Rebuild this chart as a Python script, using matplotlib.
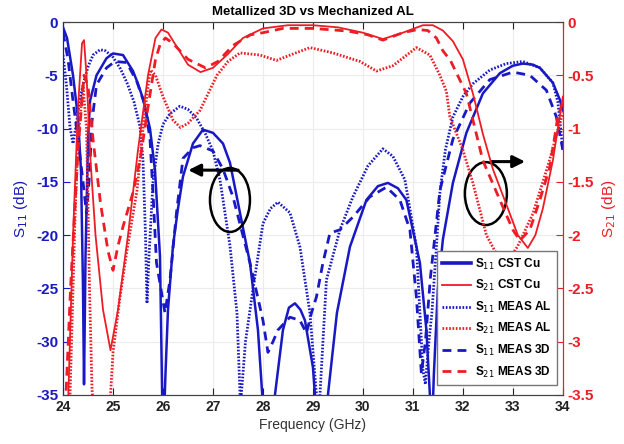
import matplotlib
matplotlib.use('Agg')
import matplotlib.pyplot as plt
from matplotlib.patches import Ellipse
from matplotlib.lines import Line2D

plt.rcParams['font.family'] = ['Liberation Sans', 'DejaVu Sans']

BLUE = '#1818c4'
RED = '#ee1c24'

# S11 CST Cu (blue solid)
s11_cst_f = [24.0, 24.08, 24.2, 24.3, 24.36, 24.4, 24.42, 24.45, 24.5, 24.54, 24.67, 24.87, 25.0, 25.2,
             25.4, 25.5, 25.6, 25.74, 25.84, 25.94, 26.0, 26.05, 26.1, 26.2, 26.3, 26.4, 26.6, 26.8,
             27.0, 27.2, 27.34, 27.54, 27.74, 27.9, 28.0, 28.1, 28.24, 28.4, 28.52, 28.64, 28.75, 28.84,
             29.0, 29.04, 29.15, 29.3, 29.48, 29.74, 30.07, 30.3, 30.5, 30.7, 30.87, 31.14, 31.27, 31.34,
             31.37, 31.42, 31.5, 31.6, 31.8, 32.07, 32.4, 32.74, 33.0, 33.2, 33.4, 33.54, 33.8, 33.94, 34.0]
s11_cst_db = [-0.5, -1.5, -5, -9, -14, -25, -34, -22, -11, -7.4, -5, -3.4, -2.95, -3.1,
              -4.6, -5.8, -7.2, -10, -13.9, -22, -40, -33, -27, -21, -17.5, -14.5, -11.4, -10.1,
              -10.4, -11.4, -13.2, -17.9, -22.6, -28.9, -36, -45, -35, -28.9, -26.8, -26.4, -27, -28,
              -32.4, -35, -45, -35, -27.3, -21.1, -16.7, -15.4, -15.1, -15.6, -16.7, -22.6, -28.9, -35,
              -40, -33, -25, -20.4, -15.1, -10.4, -6.7, -4.8, -4.1, -3.9, -4.0, -4.3, -5.7, -7.3, -8.3]

# S11 MEAS AL (blue dotted)
s11_al_f = [24.0, 24.07, 24.14, 24.2, 24.27, 24.33, 24.4, 24.5, 24.6, 24.74, 24.85, 25.0, 25.15, 25.28,
            25.42, 25.54, 25.6, 25.65, 25.68, 25.72, 25.8, 25.9, 26.0, 26.14, 26.34, 26.5, 26.67, 26.85,
            27.0, 27.14, 27.34, 27.48, 27.55, 27.65, 27.8, 28.0, 28.15, 28.3, 28.54, 28.74, 28.94, 29.07,
            29.1, 29.14, 29.27, 29.54, 29.8, 30.1, 30.4, 30.6, 30.84, 31.07, 31.2, 31.25, 31.32, 31.38,
            31.47, 31.54, 31.65, 31.8, 32.0, 32.2, 32.54, 32.87, 33.2, 33.54, 33.8, 33.9, 34.0]
s11_al_db = [-3.1, -6, -9.9, -11.4, -9.5, -7.4, -5.9, -4.2, -3.1, -2.6, -2.7, -3.3, -4.4, -5.7,
             -7.5, -9.8, -13, -20, -26.4, -22, -15, -11.5, -9.6, -8.6, -7.9, -8.2, -9.0, -10.5,
             -12.1, -14.8, -21, -27.3, -36, -30, -25.1, -18.9, -17.5, -16.9, -17.9, -21.1, -27.3, -35,
             -38, -35, -24.2, -19.5, -16.4, -13.5, -11.9, -12.6, -14.8, -21.1, -32.6, -34, -30, -27.3,
             -21.1, -16, -12, -8.9, -7.0, -5.8, -4.5, -3.9, -3.7, -4.3, -5.7, -7.5, -12]

# S11 MEAS 3D (blue dashed)
s11_3d_f = [24.0, 24.1, 24.2, 24.3, 24.4, 24.47, 24.52, 24.58, 24.67, 24.87, 25.04, 25.27, 25.47, 25.64,
            25.74, 25.8, 25.87, 26.04, 26.14, 26.27, 26.4, 26.6, 26.74, 27.0, 27.2, 27.4, 27.74, 28.0,
            28.1, 28.2, 28.3, 28.54, 28.74, 28.87, 28.97, 29.07, 29.2, 29.34, 29.54, 29.8, 30.14, 30.47,
            30.74, 30.94, 31.07, 31.17, 31.25, 31.35, 31.54, 31.8, 32.14, 32.54, 33.0, 33.34, 33.67,
            33.87, 34.0]
s11_3d_db = [-1.0, -3.5, -7.4, -11, -15, -18, -15, -9.3, -5.9, -4.3, -3.7, -3.8, -5.5, -7.8,
             -11, -16, -22.6, -27.3, -24.2, -17.9, -12.8, -11.8, -11.6, -12.1, -13.8, -16.4, -22.6, -28,
             -31, -30, -28.9, -27.7, -28, -29.2, -27.3, -25.8, -22.6, -19.8, -19.5, -18.3, -16.4, -15.5,
             -16.7, -19.5, -25.8, -33, -30, -24, -15.8, -11, -7.6, -5.4, -4.7, -5.0, -6.4,
             -8.9, -12]

# S21 CST Cu (red solid)
s21_cst_f = [24.1, 24.2, 24.3, 24.38, 24.42, 24.47, 24.55, 24.65, 24.8, 24.95, 25.1, 25.3, 25.5, 25.7,
             25.85, 25.97, 26.1, 26.3, 26.5, 26.75, 27.0, 27.3, 27.6, 28.0, 28.5, 29.0, 29.5, 30.0, 30.4,
             30.8, 31.2, 31.4, 31.6, 31.8, 32.0, 32.2, 32.4, 32.6, 32.9, 33.1, 33.3, 33.45, 33.6, 33.8, 34.0]
s21_cst_db = [-3.6, -2.0, -0.8, -0.2, -0.17, -0.5, -1.3, -2.0, -2.7, -3.08, -2.7, -2.0, -1.2, -0.5,
              -0.15, -0.07, -0.1, -0.25, -0.4, -0.47, -0.43, -0.3, -0.15, -0.06, -0.03, -0.03, -0.05, -0.1, -0.16,
              -0.1, -0.03, -0.03, -0.08, -0.18, -0.35, -0.67, -1.05, -1.38, -1.75, -2.0, -2.12, -2.0, -1.75, -1.3, -0.7]

# S21 MEAS AL (red dotted)
s21_al_f = [24.0, 24.14, 24.24, 24.3, 24.4, 24.47, 24.53, 24.58, 24.65, 24.9, 24.95, 25.0, 25.14, 25.28,
            25.48, 25.6, 25.7, 25.75, 25.85, 26.0, 26.2, 26.35, 26.5, 26.74, 27.08, 27.3, 27.54, 27.94,
            28.27, 28.6, 28.94, 29.4, 29.94, 30.27, 30.6, 31.07, 31.34, 31.54, 31.67, 31.74, 32.0, 32.2,
            32.47, 32.7, 32.9, 33.1, 33.4, 33.7, 34.0]
s21_al_db = [-3.8, -3.5, -1.83, -1.1, -0.6, -1.0, -2.5, -3.45, -3.8, -3.8, -3.5, -3.1, -2.58, -2.14,
             -1.58, -1.0, -0.6, -0.45, -0.5, -0.7, -0.92, -0.99, -0.95, -0.83, -0.5, -0.37, -0.29, -0.31,
             -0.36, -0.3, -0.24, -0.29, -0.37, -0.46, -0.41, -0.24, -0.31, -0.5, -0.65, -0.89, -1.2, -1.51,
             -2.0, -2.2, -2.25, -2.1, -1.8, -1.35, -0.85]

# S21 MEAS 3D (red dashed)
s21_3d_f = [24.05, 24.15, 24.3, 24.42, 24.5, 24.6, 24.75, 24.9, 25.0, 25.1, 25.2, 25.4, 25.55, 25.7,
            25.85, 25.95, 26.05, 26.2, 26.5, 26.85, 27.1, 27.4, 27.75, 28.0, 28.4, 29.0, 29.7, 30.1, 30.4,
            30.8, 31.1, 31.3, 31.47, 31.6, 31.75, 32.07, 32.4, 32.74, 33.0, 33.14, 33.34, 33.54, 33.74,
            33.9, 34.0]
s21_3d_db = [-3.6, -2.5, -1.2, -0.5, -0.6, -1.1, -1.7, -2.15, -2.33, -2.1, -1.92, -1.6, -1.27, -0.8,
             -0.35, -0.2, -0.15, -0.2, -0.35, -0.43, -0.37, -0.22, -0.12, -0.1, -0.06, -0.06, -0.085, -0.12, -0.17,
             -0.1, -0.07, -0.08, -0.15, -0.27, -0.36, -0.67, -1.3, -1.67, -1.95, -2.05, -1.95, -1.67, -1.36,
             -0.89, -0.75]

xticks = [24, 25, 26, 27, 28, 29, 30, 31, 32, 33, 34]
s11_ticks = [0, -5, -10, -15, -20, -25, -30, -35]
s21_ticks = [0, -0.5, -1, -1.5, -2, -2.5, -3, -3.5]
s21_ticklabels = ['0', '-0.5', '-1', '-1.5', '-2', '-2.5', '-3', '-3.5']

fig = plt.figure(figsize=(6.24, 4.44), dpi=100)
ax = fig.add_axes([0.101, 0.1104, 0.801, 0.840])
ax2 = ax.twinx()

dot = (0, (0.6, 0.6))
dash = (0, (3.2, 2.2))

ax.plot(s11_al_f, s11_al_db, color=BLUE, lw=2.0, linestyle=dot)
ax.plot(s11_3d_f, s11_3d_db, color=BLUE, lw=2.0, linestyle=dash)
ax.plot(s11_cst_f, s11_cst_db, color=BLUE, lw=1.8)

ax2.plot(s21_al_f, s21_al_db, color=RED, lw=2.0, linestyle=dot)
ax2.plot(s21_3d_f, s21_3d_db, color=RED, lw=2.0, linestyle=dash)
ax2.plot(s21_cst_f, s21_cst_db, color=RED, lw=1.3)

ax.set_xlim(24, 34)
ax.set_ylim(-35, 0)
ax2.set_ylim(-3.5, 0)
ax.set_xticks(xticks)
ax.set_yticks(s11_ticks)
ax2.set_yticks(s21_ticks)
ax.set_yticklabels([str(v) for v in s11_ticks])
ax2.set_yticklabels(s21_ticklabels)

ax.grid(True, color='#ececec', lw=0.8)
ax.tick_params(axis='x', direction='in', top=True, labelsize=10, colors='#222222', length=5)
ax.tick_params(axis='y', direction='in', labelsize=11, colors=BLUE, length=5)
ax2.tick_params(axis='y', direction='in', labelsize=11, colors=RED, length=5)
for lab in ax.get_yticklabels() + ax2.get_yticklabels() + ax.get_xticklabels():
    lab.set_fontweight('bold')

for a in (ax, ax2):
    a.spines['top'].set_color('#444444')
    a.spines['bottom'].set_color('#444444')
    a.spines['left'].set_color(BLUE)
    a.spines['right'].set_color(RED)

ax.set_xlabel('Frequency (GHz)', fontsize=10, color='#333333', labelpad=3)
ax.set_ylabel('S$_{11}$ (dB)', fontsize=11, color=BLUE, labelpad=4)
ax2.set_ylabel('S$_{21}$ (dB)', fontsize=11, color=RED, labelpad=4)
ax.set_title('Metallized 3D vs Mechanized AL', fontsize=9.5, fontweight='bold', pad=5)

# annotations: ellipses + arrows
ax.add_patch(Ellipse((27.34, -16.7), 0.8, 6.0, fill=False, ec='black', lw=1.8, zorder=5))
ax.annotate('', xy=(26.45, -13.9), xytext=(27.56, -13.9),
            arrowprops=dict(arrowstyle='-|>', color='black', lw=2.2, mutation_scale=18), zorder=5)
ax.add_patch(Ellipse((32.46, -16.1), 0.84, 5.9, fill=False, ec='black', lw=1.8, zorder=5))
ax.annotate('', xy=(33.3, -13.1), xytext=(32.52, -13.1),
            arrowprops=dict(arrowstyle='-|>', color='black', lw=2.2, mutation_scale=18), zorder=5)

handles = [
    Line2D([], [], color=BLUE, lw=2.6),
    Line2D([], [], color=RED, lw=1.3),
    Line2D([], [], color=BLUE, lw=2.0, linestyle=dot),
    Line2D([], [], color=RED, lw=2.0, linestyle=dot),
    Line2D([], [], color=BLUE, lw=2.0, linestyle=dash),
    Line2D([], [], color=RED, lw=2.0, linestyle=dash),
]
labels = ['S$_{11}$ CST Cu', 'S$_{21}$ CST Cu', 'S$_{11}$ MEAS AL',
          'S$_{21}$ MEAS AL', 'S$_{11}$ MEAS 3D', 'S$_{21}$ MEAS 3D']
leg = ax2.legend(handles, labels, loc='lower right', bbox_to_anchor=(0.988, 0.027),
                 borderaxespad=0, fancybox=False, framealpha=1, edgecolor='#777777',
                 fontsize=8.5, handlelength=2.5, handletextpad=0.3, labelspacing=0.55,
                 borderpad=0.45)
for t in leg.get_texts():
    t.set_fontweight('bold')

fig.savefig('out.png', dpi=100)
